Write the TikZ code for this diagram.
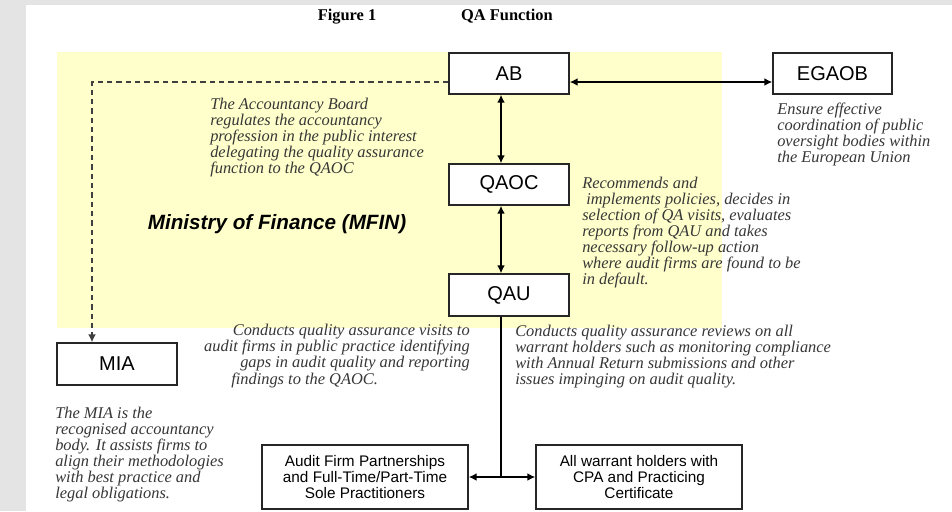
\documentclass[tikz,border=0pt]{standalone}
\usepackage{fontspec}
\setmainfont{Liberation Serif}
\setsansfont{Liberation Sans}
\usetikzlibrary{arrows.meta}
\definecolor{pagegray}{RGB}{228,228,228}
\definecolor{mfinyellow}{RGB}{255,255,204}
\definecolor{notegray}{RGB}{55,55,55}
\begin{document}
\begin{tikzpicture}[x=0.75pt,y=-0.75pt,
  box/.style={draw=black!85, line width=1.1pt, fill=white, inner sep=0pt,
    minimum width=90pt, minimum height=30.75pt,
    font=\sffamily\fontsize{15}{15}\selectfont},
  bigbox/.style={draw=black!85, line width=1.1pt, fill=white, inner sep=0pt,
    minimum width=154.5pt, minimum height=48pt, align=center,
    font=\sffamily\fontsize{11.5}{12}\selectfont},
  note/.style={inner sep=0pt, text=notegray,
    font=\itshape\fontsize{12.3}{12}\selectfont},
  conn/.style={line width=1.5pt, draw=black,
    {Latex[length=6pt,width=6pt]}-{Latex[length=6pt,width=6pt]}},
  oneway/.style={line width=1.5pt, draw=black, -{Latex[length=6pt,width=6pt]}},
  dashconn/.style={line width=1.1pt, draw=black!75, dash pattern=on 4pt off 3pt,
    -{Latex[length=6pt,width=6pt]}}
]
\useasboundingbox (0,0) rectangle (952,511);
\fill[pagegray] (0,0) rectangle (952,511);
\fill[white] (26,5) rectangle (952,511);
\fill[mfinyellow] (57,52) rectangle (722,328);

% title
\node[font=\bfseries\fontsize{12.3}{12}\selectfont] (fig) at (347,16.5) {Figure 1};
\node[font=\bfseries\fontsize{12.3}{12}\selectfont] (qaf) at (507,16.5) {QA Function};

% boxes
\node[box] (AB) at (509,73.5) {AB};
\node[box] (QAOC) at (509,184.5) {QAOC};
\node[box, minimum height=31.5pt] (QAU) at (509,295) {QAU};
\node[box, minimum width=89.25pt] (EGAOB) at (832.5,73.5) {EGAOB};
\node[box, minimum height=31.5pt] (MIA) at (117,364) {MIA};
\node[bigbox] (AFP) at (365,477) {Audit Firm Partnerships\\and Full-Time/Part-Time\\Sole Practitioners};
\node[bigbox] (AWH) at (639,477) {All warrant holders with\\CPA and Practicing\\Certificate};

% label
\node[font=\sffamily\bfseries\itshape\fontsize{15.5}{15.5}\selectfont] (mfin) at (277,224) {Ministry of Finance (MFIN)};

% helper coordinates
\coordinate (col) at (501,0);
\coordinate (row) at (0,82);
\coordinate (dcorner) at (92,82);
\coordinate (tee) at (501,477);

% connectors
\draw[conn] (AB.south -| col) -- (QAOC.north -| col);
\draw[conn] (QAOC.south -| col) -- (QAU.north -| col);
\draw[conn] (AB.east |- row) -- (EGAOB.west |- row);
\draw[dashconn] (AB.west |- row) -- (dcorner) -- (MIA.north -| dcorner);
\draw[line width=1.5pt] (QAU.south -| col) -- (tee);
\draw[oneway] (tee) -- (AFP.east);
\draw[oneway] (tee) -- (AWH.west);

% notes
\node[note, anchor=north west, align=left] (nAB) at (210,97.5) {The Accountancy Board\\regulates the accountancy\\profession in the public interest\\delegating the quality assurance\\function to the QAOC};
\node[note, anchor=north west, align=left] (nEG) at (777,102.5) {Ensure effective\\coordination of  public\\oversight bodies within\\the European Union};
\node[note, anchor=north west, align=left] (nQAOC) at (582,176.5) {Recommends and\\\hspace{3pt}implements policies, decides in\\selection of QA visits, evaluates\\reports from QAU and takes\\necessary follow-up action\\where audit firms are found to be\\in default.};
\node[note, anchor=north west, align=left] (nQAUr) at (515,324.5) {Conducts quality assurance reviews on all\\warrant holders such as monitoring compliance\\with Annual Return submissions and other\\issues impinging on audit quality.};
\node[note, anchor=north east, align=right] (nQAUl) at (470,323.5) {Conducts quality assurance visits to\\audit firms in public practice identifying\\gaps in audit quality and reporting};
\node[note, anchor=north west] (nQAUl4) at (231,372.5) {findings to the QAOC.};
\node[note, anchor=north west, align=left] (nMIA) at (55,406.5) {The MIA is the\\recognised accountancy\\body. It assists firms to\\align their methodologies\\with best practice and\\legal obligations.};
\end{tikzpicture}
\end{document}
